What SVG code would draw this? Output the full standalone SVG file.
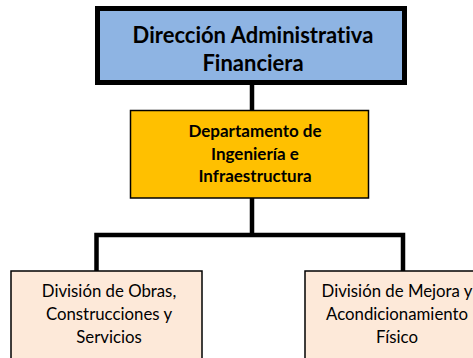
<svg xmlns="http://www.w3.org/2000/svg" width="473" height="358" viewBox="0 0 473 358">
<style>
.t{font-family:Lato,"Liberation Sans",sans-serif;text-anchor:middle;fill:#000;font-variant-ligatures:none;font-feature-settings:"liga" 0,"dlig" 0}
.b{font-weight:bold}
.conn{stroke:#000;stroke-width:4.5;fill:none}
</style>
<rect width="473" height="358" fill="#fff"/>
<g id="connectors">
<line class="conn" x1="252" y1="85" x2="252" y2="110"/>
<path class="conn" d="M252 198 V235 M96.5 271 V235 H403 V271"/>
</g>
<g id="direccion">
<rect x="97.5" y="8.5" width="307" height="74" fill="#8EB4E3" stroke="#000" stroke-width="5"/>
<text class="t b" x="253" y="43" font-size="22">Dirección Administrativa</text>
<text class="t b" x="253" y="71" font-size="22">Financiera</text>
</g>
<g id="departamento">
<rect x="130.5" y="110.5" width="238" height="87.5" fill="#FFC000" stroke="#000" stroke-width="1.5"/>
<text class="t b" x="255" y="137" font-size="17">Departamento de</text>
<text class="t b" x="255" y="159.5" font-size="17">Ingeniería e</text>
<text class="t b" x="255" y="182" font-size="17">Infraestructura</text>
</g>
<g id="obras">
<rect x="11" y="271" width="191" height="100" fill="#FDE9D9" stroke="#000" stroke-width="1.5"/>
<text class="t" x="109" y="297" font-size="16.8">División de Obras,</text>
<text class="t" x="109" y="320" font-size="16.8">Construcciones y</text>
<text class="t" x="109" y="343" font-size="16.8">Servicios</text>
</g>
<g id="mejora">
<rect x="305" y="271" width="190" height="100" fill="#FDE9D9" stroke="#000" stroke-width="1.5"/>
<text class="t" x="397" y="297" font-size="16.8">División de Mejora y</text>
<text class="t" x="397" y="320" font-size="16.8">Acondicionamiento</text>
<text class="t" x="397" y="343" font-size="16.8">Físico</text>
</g>
</svg>
